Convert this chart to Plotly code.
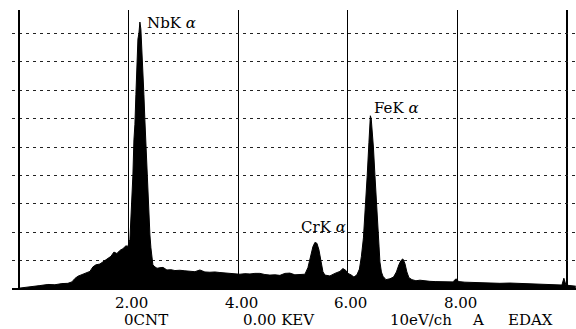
import plotly.graph_objects as go

# EDAX spectrum, energy in keV, intensity in grid divisions
energy_kev = [
    0.000, 0.108, 0.254, 0.381, 0.527, 0.655, 0.783, 0.892, 0.965, 1.020,
    1.075, 1.148, 1.221, 1.294, 1.349, 1.403, 1.476, 1.549, 1.622, 1.677,
    1.732, 1.786, 1.841, 1.896, 1.951, 1.987,
    2.024, 2.060, 2.078, 2.097, 2.115, 2.133, 2.151, 2.170, 2.188, 2.206,
    2.224, 2.243, 2.261, 2.279, 2.297, 2.316, 2.334, 2.352, 2.370, 2.389,
    2.407, 2.425, 2.443, 2.480,
    2.518, 2.573, 2.628, 2.699, 2.772, 2.845, 2.936, 3.027, 3.119, 3.210,
    3.301, 3.392, 3.484, 3.575, 3.666, 3.757, 3.849, 3.940, 4.031, 4.122,
    4.214, 4.305, 4.396, 4.487, 4.578, 4.670, 4.761, 4.852, 4.943, 5.034,
    5.126, 5.217,
    5.272, 5.326, 5.363, 5.400, 5.436, 5.473, 5.509, 5.546, 5.582,
    5.673, 5.765, 5.856, 5.911, 5.966, 6.002, 6.057, 6.112, 6.166,
    6.212, 6.248, 6.285, 6.321, 6.354, 6.385, 6.412, 6.427, 6.449, 6.467,
    6.495, 6.526, 6.555, 6.586, 6.613, 6.641,
    6.696, 6.769, 6.834, 6.887, 6.932, 6.969, 7.005, 7.042, 7.078, 7.115,
    7.170, 7.243, 7.316, 7.407, 7.498, 7.607, 7.717, 7.827, 7.918, 7.973,
    8.027, 8.137, 8.265, 8.411, 8.593, 8.776, 8.958, 9.141, 9.323, 9.505,
    9.688, 9.834, 9.907, 9.943, 9.980, 10.053, 10.160,
]
counts = [
    0.03, 0.05, 0.10, 0.12, 0.16, 0.15, 0.19, 0.20, 0.25, 0.37,
    0.45, 0.50, 0.57, 0.62, 0.78, 0.85, 0.88, 0.98, 1.08, 1.15,
    1.30, 1.25, 1.36, 1.42, 1.52, 1.50,
    1.75, 3.10, 4.00, 5.25, 5.80, 6.85, 8.10, 8.80, 9.00, 9.40,
    9.15, 8.45, 7.55, 6.85, 5.95, 5.10, 4.00, 3.30, 2.80, 1.90,
    1.45, 1.10, 0.85, 0.78,
    0.73, 0.75, 0.76, 0.67, 0.68, 0.65, 0.66, 0.64, 0.62, 0.61,
    0.67, 0.60, 0.59, 0.60, 0.58, 0.57, 0.55, 0.53, 0.52, 0.54,
    0.53, 0.55, 0.55, 0.51, 0.49, 0.50, 0.48, 0.55, 0.56, 0.50,
    0.50, 0.52,
    0.75, 1.14, 1.49, 1.64, 1.61, 1.38, 0.91, 0.61, 0.49,
    0.46, 0.55, 0.62, 0.72, 0.65, 0.55, 0.50, 0.42, 0.50,
    0.70, 1.15, 1.80, 2.80, 4.00, 5.15, 6.10, 6.00, 5.50, 5.00,
    4.00, 2.85, 1.70, 0.95, 0.60, 0.45,
    0.33, 0.36, 0.42, 0.60, 0.85, 1.00, 1.06, 0.90, 0.60, 0.40,
    0.33, 0.29, 0.31, 0.28, 0.27, 0.26, 0.25, 0.26, 0.25, 0.36,
    0.26, 0.24, 0.23, 0.24, 0.21, 0.20, 0.21, 0.20, 0.19, 0.18,
    0.17, 0.15, 0.14, 0.38, 0.14, 0.12, 0.10,
]

major_ticks = [0, 2, 4, 6, 8, 10]
tick_labels = ["2.00", "4.00", "6.00", "8.00"]
tick_label_pos = [2, 4, 6, 8]
grid_rows = [1, 2, 3, 4, 5, 6, 7, 8, 9]

footer_texts = ["0CNT", "0.00 KEV", "10eV/ch", "A", "EDAX"]
footer_pos = [2.32, 4.75, 7.33, 8.37, 9.34]

peak_labels = ["NbK <i>α</i>", "FeK <i>α</i>", "CrK <i>α</i>"]
peak_label_x = [2.78, 6.89, 5.56]
peak_label_y = [9.38, 6.37, 2.18]

FONT = "DejaVu Serif"

fig = go.Figure()
fig.add_trace(go.Scatter(
    x=energy_kev, y=counts, mode="lines",
    line=dict(color="black", width=1),
    fill="tozeroy", fillcolor="black",
    hoverinfo="skip", showlegend=False,
))

for lab, xv in zip(tick_labels, tick_label_pos):
    fig.add_annotation(x=xv, y=0, xref="x", yref="paper", text=lab,
                       showarrow=False, xshift=3, yshift=-14, yanchor="middle",
                       font=dict(family=FONT, size=15, color="black"))
for lab, xv in zip(footer_texts, footer_pos):
    fig.add_annotation(x=xv, y=0, xref="x", yref="paper", text=lab,
                       showarrow=False, yshift=-31, yanchor="middle",
                       font=dict(family=FONT, size=15, color="black"))
for lab, xv, yv in zip(peak_labels, peak_label_x, peak_label_y):
    fig.add_annotation(x=xv, y=yv, xref="x", yref="y", text=lab,
                       showarrow=False, yanchor="middle", xanchor="center",
                       font=dict(family=FONT, size=15, color="black"))

fig.update_layout(
    width=576, height=329,
    margin=dict(l=12, r=0, t=10, b=40),
    paper_bgcolor="white", plot_bgcolor="white",
    font=dict(family=FONT, color="black"),
    xaxis=dict(range=[-0.128, 10.164], tickvals=major_ticks, showticklabels=False,
               showgrid=True, gridcolor="black", gridwidth=1.3,
               zeroline=True, zerolinecolor="black", zerolinewidth=1.3,
               showline=False, ticks=""),
    yaxis=dict(range=[0, 9.824], tickvals=grid_rows, showticklabels=False,
               showgrid=True, gridcolor="#222", gridwidth=1, griddash="3px,4px",
               zeroline=True, zerolinecolor="black", zerolinewidth=1.5,
               showline=False, ticks=""),
)

fig.write_html(
    "out.html",
    config={"displayModeBar": False, "staticPlot": True},
    post_script="document.body.style.margin='0';document.body.style.padding='0';"
                "document.body.style.overflow='hidden';",
)
